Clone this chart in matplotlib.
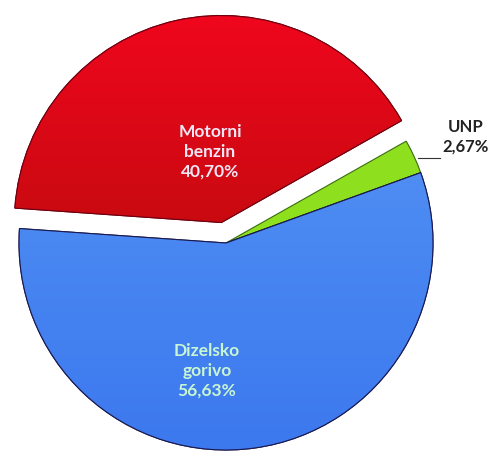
import matplotlib
matplotlib.use('Agg')
import matplotlib.pyplot as plt
import numpy as np
from matplotlib.colors import LinearSegmentedColormap
from matplotlib.patches import PathPatch

# shares of fuel types (%)
fuels = ['Motorni\nbenzin', 'UNP', 'Dizelsko\ngorivo']
shares = [40.70, 2.67, 56.63]
share_labels = ['40,70%', '2,67%', '56,63%']
colors = ['#D00A14', '#8EE01E', '#4A88F2']
explode = [21, 0, 0]

fig = plt.figure(figsize=(4.96, 4.55), dpi=100)
ax = fig.add_axes([0, 0, 1, 1])

wedges, _ = ax.pie(shares, colors=colors, explode=explode,
                   startangle=176, counterclock=False,
                   center=(226, 212), radius=207,
                   wedgeprops=dict(edgecolor='#1a1a50', linewidth=0.8))
wedges[0].set_edgecolor('#700010')
wedges[1].set_edgecolor('#3a6a10')

# soft gradients like the excel bevel look
grad = np.linspace(0, 1, 256).reshape(-1, 1)
red_cm = LinearSegmentedColormap.from_list('r', ['#A80808', '#C80A10', '#F2061E'])
blue_cm = LinearSegmentedColormap.from_list('b', ['#3C78EE', '#4A88F2', '#62A0FA'])
for w, cm in [(wedges[0], red_cm), (wedges[2], blue_cm)]:
    im = ax.imshow(grad, cmap=cm, extent=(0, 496, 0, 455), origin='lower',
                   aspect='auto', zorder=w.get_zorder() + 0.1)
    im.set_clip_path(w)
    ax.add_patch(PathPatch(w.get_path(), fill=False, ec=w.get_edgecolor(),
                           lw=0.8, zorder=w.get_zorder() + 0.2))

ax.set_xlim(0, 496)
ax.set_ylim(0, 455)
ax.set_aspect('equal')
ax.axis('off')

fnt = 'Lato'
ax.text(210, 303, fuels[0] + '\n' + share_labels[0], ha='center', va='center',
        color='#f0e6f5', fontsize=12.5, fontweight='bold', family=fnt,
        linespacing=1.3, zorder=5)
ax.text(207, 84, fuels[2] + '\n' + share_labels[2], ha='center', va='center',
        color='#c8f5d2', fontsize=12.5, fontweight='bold', family=fnt,
        linespacing=1.3, zorder=5)
ax.text(466, 318, fuels[1] + '\n' + share_labels[1], ha='center', va='center',
        color='#222222', fontsize=12, fontweight='bold', family=fnt,
        linespacing=1.3, zorder=5)
ax.plot([418, 440], [297, 297], color='#333333', lw=0.8, zorder=5)

fig.savefig('out.png', dpi=100)
